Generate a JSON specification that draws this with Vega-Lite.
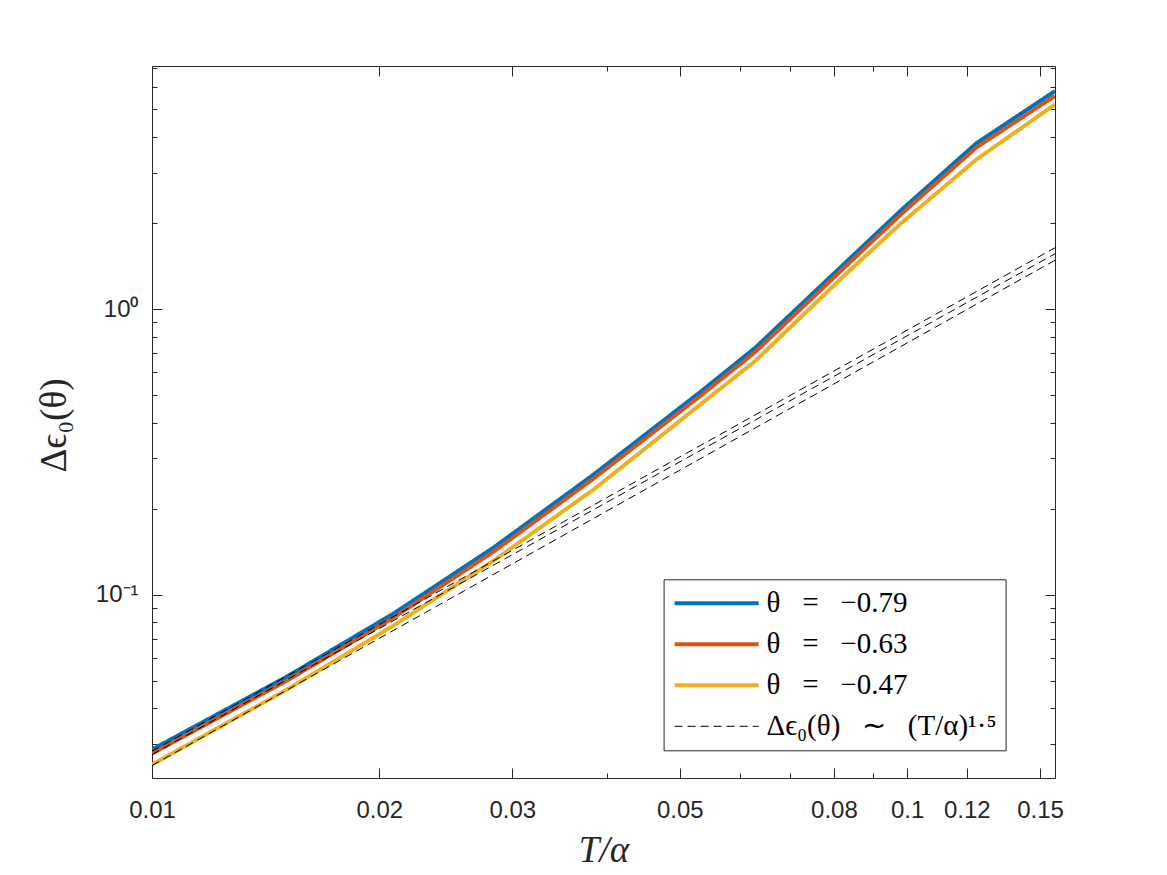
{
  "$schema": "https://vega.github.io/schema/vega-lite/v6.json",
  "width": 903,
  "height": 712,
  "autosize": "none",
  "padding": {"left": 152, "top": 66, "right": 112, "bottom": 97},
  "background": "white",
  "config": {
    "view": {"stroke": "#262626", "strokeWidth": 1},
    "axis": {
      "grid": false,
      "domain": false,
      "tickColor": "#262626",
      "tickWidth": 1,
      "labelColor": "#262626",
      "labelFont": "Liberation Sans",
      "labelFontSize": 24,
      "titleColor": "#262626",
      "labelOverlap": false,
      "labelFlush": false
    }
  },
  "data": {
    "values": [
      {"T": 0.01, "v": 0.02868, "s": "θ\u2002\u2005=\u2002\u2005−0.79", "id": "b"},
      {"T": 0.01509, "v": 0.05164, "s": "θ\u2002\u2005=\u2002\u2005−0.79", "id": "b"},
      {"T": 0.02088, "v": 0.0858, "s": "θ\u2002\u2005=\u2002\u2005−0.79", "id": "b"},
      {"T": 0.02833, "v": 0.1461, "s": "θ\u2002\u2005=\u2002\u2005−0.79", "id": "b"},
      {"T": 0.03842, "v": 0.263, "s": "θ\u2002\u2005=\u2002\u2005−0.79", "id": "b"},
      {"T": 0.05318, "v": 0.5115, "s": "θ\u2002\u2005=\u2002\u2005−0.79", "id": "b"},
      {"T": 0.06288, "v": 0.7303, "s": "θ\u2002\u2005=\u2002\u2005−0.79", "id": "b"},
      {"T": 0.08318, "v": 1.468, "s": "θ\u2002\u2005=\u2002\u2005−0.79", "id": "b"},
      {"T": 0.09833, "v": 2.227, "s": "θ\u2002\u2005=\u2002\u2005−0.79", "id": "b"},
      {"T": 0.1236, "v": 3.811, "s": "θ\u2002\u2005=\u2002\u2005−0.79", "id": "b"},
      {"T": 0.157, "v": 5.8, "s": "θ\u2002\u2005=\u2002\u2005−0.79", "id": "b"},
      {"T": 0.01, "v": 0.02777, "s": "θ\u2002\u2005=\u2002\u2005−0.63", "id": "r"},
      {"T": 0.01509, "v": 0.05, "s": "θ\u2002\u2005=\u2002\u2005−0.63", "id": "r"},
      {"T": 0.02088, "v": 0.08307, "s": "θ\u2002\u2005=\u2002\u2005−0.63", "id": "r"},
      {"T": 0.02833, "v": 0.1414, "s": "θ\u2002\u2005=\u2002\u2005−0.63", "id": "r"},
      {"T": 0.03842, "v": 0.2547, "s": "θ\u2002\u2005=\u2002\u2005−0.63", "id": "r"},
      {"T": 0.05318, "v": 0.4952, "s": "θ\u2002\u2005=\u2002\u2005−0.63", "id": "r"},
      {"T": 0.06288, "v": 0.7059, "s": "θ\u2002\u2005=\u2002\u2005−0.63", "id": "r"},
      {"T": 0.08318, "v": 1.423, "s": "θ\u2002\u2005=\u2002\u2005−0.63", "id": "r"},
      {"T": 0.09833, "v": 2.156, "s": "θ\u2002\u2005=\u2002\u2005−0.63", "id": "r"},
      {"T": 0.1236, "v": 3.685, "s": "θ\u2002\u2005=\u2002\u2005−0.63", "id": "r"},
      {"T": 0.157, "v": 5.58, "s": "θ\u2002\u2005=\u2002\u2005−0.63", "id": "r"},
      {"T": 0.01, "v": 0.02541, "s": "θ\u2002\u2005=\u2002\u2005−0.47", "id": "y"},
      {"T": 0.01509, "v": 0.04651, "s": "θ\u2002\u2005=\u2002\u2005−0.47", "id": "y"},
      {"T": 0.02088, "v": 0.0779, "s": "θ\u2002\u2005=\u2002\u2005−0.47", "id": "y"},
      {"T": 0.02833, "v": 0.1315, "s": "θ\u2002\u2005=\u2002\u2005−0.47", "id": "y"},
      {"T": 0.03842, "v": 0.2331, "s": "θ\u2002\u2005=\u2002\u2005−0.47", "id": "y"},
      {"T": 0.05318, "v": 0.4624, "s": "θ\u2002\u2005=\u2002\u2005−0.47", "id": "y"},
      {"T": 0.06288, "v": 0.6568, "s": "θ\u2002\u2005=\u2002\u2005−0.47", "id": "y"},
      {"T": 0.08318, "v": 1.335, "s": "θ\u2002\u2005=\u2002\u2005−0.47", "id": "y"},
      {"T": 0.09833, "v": 2.005, "s": "θ\u2002\u2005=\u2002\u2005−0.47", "id": "y"},
      {"T": 0.1236, "v": 3.344, "s": "θ\u2002\u2005=\u2002\u2005−0.47", "id": "y"},
      {"T": 0.157, "v": 5.21, "s": "θ\u2002\u2005=\u2002\u2005−0.47", "id": "y"},
      {"T": 0.01, "v": 0.02828, "s": "Δϵ₀(θ)\u2002\u2005∼\u2002\u2005(T/α)¹·⁵", "id": "d1"},
      {"T": 0.157, "v": 1.64, "s": "Δϵ₀(θ)\u2002\u2005∼\u2002\u2005(T/α)¹·⁵", "id": "d1"},
      {"T": 0.01, "v": 0.02754, "s": "Δϵ₀(θ)\u2002\u2005∼\u2002\u2005(T/α)¹·⁵", "id": "d2"},
      {"T": 0.157, "v": 1.562, "s": "Δϵ₀(θ)\u2002\u2005∼\u2002\u2005(T/α)¹·⁵", "id": "d2"},
      {"T": 0.01, "v": 0.02521, "s": "Δϵ₀(θ)\u2002\u2005∼\u2002\u2005(T/α)¹·⁵", "id": "d3"},
      {"T": 0.157, "v": 1.483, "s": "Δϵ₀(θ)\u2002\u2005∼\u2002\u2005(T/α)¹·⁵", "id": "d3"}
    ]
  },
  "layer": [
    {
      "mark": {"type": "line", "clip": true},
      "encoding": {
        "x": {
          "field": "T", "type": "quantitative",
          "scale": {"type": "log", "domain": [0.01, 0.157], "nice": false},
          "axis": {
            "orient": "bottom",
            "values": [0.01, 0.02, 0.03, 0.05, 0.08, 0.1, 0.12, 0.15],
            "format": ".2~f",
            "tickSize": -10,
            "labelPadding": 30,
            "title": "T/α",
            "titleFont": "Liberation Serif",
            "titleFontStyle": "italic",
            "titleFontWeight": "normal",
            "titleFontSize": 37,
            "titleX": 451.5,
            "titleY": 72,
            "titleBaseline": "middle"
          }
        },
        "y": {
          "field": "v", "type": "quantitative",
          "scale": {"type": "log", "domain": [0.0228, 7.1], "nice": false},
          "axis": {
            "orient": "left",
            "values": [0.1, 1],
            "labelExpr": "datum.value >= 1 ? '10⁰' : '10⁻¹'",
            "tickSize": -10,
            "labelPadding": 24,
            "title": "Δϵ₀(θ)",
            "titleFont": "Liberation Serif",
            "titleFontWeight": "normal",
            "titleFontSize": 37,
            "titleAngle": -90,
            "titleX": -98,
            "titleY": 359,
            "titleBaseline": "middle"
          }
        },
        "color": {
          "field": "s", "type": "nominal",
          "scale": {
            "domain": ["θ\u2002\u2005=\u2002\u2005−0.79", "θ\u2002\u2005=\u2002\u2005−0.63", "θ\u2002\u2005=\u2002\u2005−0.47", "Δϵ₀(θ)\u2002\u2005∼\u2002\u2005(T/α)¹·⁵"],
            "range": ["#0072BD", "#D95319", "#EDB120", "#000000"]
          },
          "legend": {
            "orient": "none",
            "legendX": 511.6,
            "legendY": 513.3,
            "title": null,
            "fillColor": "white",
            "strokeColor": "#262626",
            "padding": 9,
            "labelFont": "Liberation Serif",
            "labelFontSize": 29,
            "labelColor": "#000000",
            "symbolType": "stroke",
            "symbolSize": 7056,
            "clipHeight": 30,
            "rowPadding": 11,
            "labelOffset": 6,
            "labelLimit": 400
          }
        },
        "strokeDash": {
          "field": "s", "type": "nominal",
          "scale": {
            "domain": ["θ\u2002\u2005=\u2002\u2005−0.79", "θ\u2002\u2005=\u2002\u2005−0.63", "θ\u2002\u2005=\u2002\u2005−0.47", "Δϵ₀(θ)\u2002\u2005∼\u2002\u2005(T/α)¹·⁵"],
            "range": [[1, 0], [1, 0], [1, 0], [8, 5]]
          }
        },
        "strokeWidth": {
          "field": "s", "type": "nominal",
          "scale": {
            "type": "ordinal",
            "domain": ["θ\u2002\u2005=\u2002\u2005−0.79", "θ\u2002\u2005=\u2002\u2005−0.63", "θ\u2002\u2005=\u2002\u2005−0.47", "Δϵ₀(θ)\u2002\u2005∼\u2002\u2005(T/α)¹·⁵"],
            "range": [4, 4, 4, 1]
          }
        },
        "detail": {"field": "id"}
      }
    },
    {
      "mark": {"type": "point", "opacity": 0},
      "encoding": {
        "x": {
          "field": "T", "type": "quantitative",
          "scale": {"type": "log", "domain": [0.01, 0.157], "nice": false},
          "axis": {"orient": "bottom", "values": [0.04, 0.06, 0.07, 0.09], "labels": false, "tickSize": -5, "title": null}
        },
        "y": {
          "field": "v", "type": "quantitative",
          "scale": {"type": "log", "domain": [0.0228, 7.1], "nice": false},
          "axis": {"orient": "left", "values": [0.03, 0.04, 0.05, 0.06, 0.07, 0.08, 0.09, 0.2, 0.3, 0.4, 0.5, 0.6, 0.7, 0.8, 0.9, 2, 3, 4, 5, 6, 7], "labels": false, "tickSize": -5, "title": null}
        }
      }
    },
    {
      "mark": {"type": "point", "opacity": 0},
      "encoding": {
        "x": {
          "field": "T", "type": "quantitative",
          "scale": {"type": "log", "domain": [0.01, 0.157], "nice": false},
          "axis": {"orient": "top", "values": [0.01, 0.02, 0.03, 0.05, 0.08, 0.1, 0.12, 0.15], "labels": false, "tickSize": -10, "title": null}
        },
        "y": {
          "field": "v", "type": "quantitative",
          "scale": {"type": "log", "domain": [0.0228, 7.1], "nice": false},
          "axis": {"orient": "right", "values": [0.1, 1], "labels": false, "tickSize": -10, "title": null}
        }
      }
    },
    {
      "mark": {"type": "point", "opacity": 0},
      "encoding": {
        "x": {
          "field": "T", "type": "quantitative",
          "scale": {"type": "log", "domain": [0.01, 0.157], "nice": false},
          "axis": {"orient": "top", "values": [0.04, 0.06, 0.07, 0.09], "labels": false, "tickSize": -5, "title": null}
        },
        "y": {
          "field": "v", "type": "quantitative",
          "scale": {"type": "log", "domain": [0.0228, 7.1], "nice": false},
          "axis": {"orient": "right", "values": [0.03, 0.04, 0.05, 0.06, 0.07, 0.08, 0.09, 0.2, 0.3, 0.4, 0.5, 0.6, 0.7, 0.8, 0.9, 2, 3, 4, 5, 6, 7], "labels": false, "tickSize": -5, "title": null}
        }
      }
    }
  ],
  "resolve": {"axis": {"x": "independent", "y": "independent"}}
}
